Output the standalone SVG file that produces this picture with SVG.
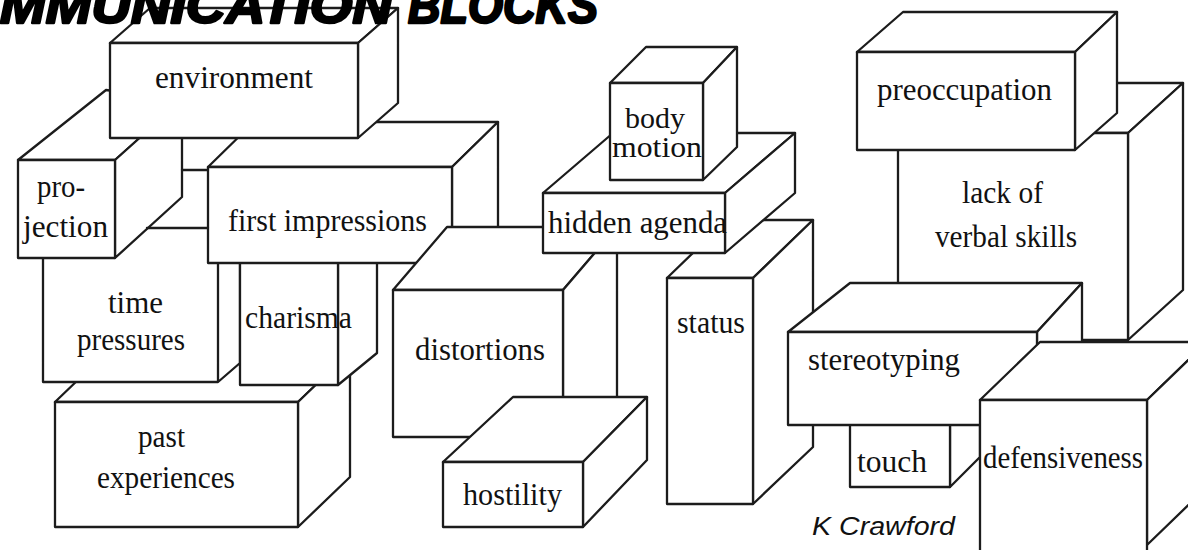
<svg xmlns="http://www.w3.org/2000/svg" width="1188" height="550" viewBox="0 0 1188 550">
<style>
.f{fill:#fff;stroke:#1c1c1c;stroke-width:2.3;stroke-linejoin:round}
.n{fill:#fff;stroke:none}
.l{fill:none;stroke:#1c1c1c;stroke-width:2.3;stroke-linejoin:round;stroke-linecap:round}
.t{font-family:"Liberation Serif",serif;font-size:31px;fill:#111}
.s{font-size:29px}
.h{font-family:"Liberation Sans",sans-serif;font-style:italic;font-weight:bold;font-size:50px;fill:#000;stroke:#000;stroke-width:2.5;stroke-linejoin:round}
</style>
<rect width="1188" height="550" fill="#fff"/>

<g id="past-experiences">
<polygon class="f" points="55,402 298,402 350,352 107,352"/>
<polygon class="f" points="298,402 350,352 350,477 298,527"/>
<rect class="f" x="55" y="402" width="243" height="125"/>
<text class="t" x="138" y="447" textLength="47" lengthAdjust="spacingAndGlyphs">past</text>
<text class="t" x="97" y="488" textLength="138" lengthAdjust="spacingAndGlyphs">experiences</text>
</g>

<g id="time-pressures">
<polygon class="n" points="43,258 218,258 240,240 240,363 218,382 43,382"/>
<path class="l" d="M43,258 V382 H218 V258 M218,382 L240,363 V240"/>
<text class="t" x="108" y="313" textLength="55" lengthAdjust="spacingAndGlyphs">time</text>
<text class="t" x="77" y="350" textLength="108" lengthAdjust="spacingAndGlyphs">pressures</text>
</g>

<g id="charisma">
<polygon class="f" points="338,250 377,215 377,353 338,385"/>
<rect class="f" x="240" y="250" width="98" height="135"/>
<text class="t" x="245" y="328" textLength="107" lengthAdjust="spacingAndGlyphs">charisma</text>
</g>

<g id="first-impressions">
<polygon class="f" points="208,167 452,167 498,122 254,122"/>
<polygon class="f" points="452,167 498,122 498,227 452,263"/>
<rect class="f" x="208" y="167" width="244" height="96"/>
<text class="t" x="228" y="231" textLength="199" lengthAdjust="spacingAndGlyphs">first impressions</text>
</g>

<g id="projection">
<polygon class="f" points="18,160 115,160 182,100 106,90"/>
<polygon class="f" points="115,160 182,100 182,197 115,258"/>
<rect class="f" x="18" y="160" width="97" height="98"/>
<text class="t" x="37" y="197" textLength="48" lengthAdjust="spacingAndGlyphs">pro-</text>
<text class="t" x="23" y="237" textLength="85" lengthAdjust="spacingAndGlyphs">jection</text>
</g>

<g id="environment">
<polygon class="f" points="110,43 358,43 398,8 150,8"/>
<polygon class="f" points="358,43 398,8 398,103 358,138"/>
<rect class="f" x="110" y="43" width="248" height="95"/>
<text class="t" x="155" y="88" textLength="158" lengthAdjust="spacingAndGlyphs">environment</text>
</g>

<g id="distortions">
<polygon class="f" points="393,290 563,290 617,227 447,227"/>
<polygon class="f" points="563,290 617,227 617,400 563,437"/>
<rect class="f" x="393" y="290" width="170" height="147"/>
<text class="t" x="415" y="360" textLength="130" lengthAdjust="spacingAndGlyphs">distortions</text>
</g>

<g id="hostility">
<polygon class="f" points="443,462 583,462 647,397 513,397"/>
<polygon class="f" points="583,462 647,397 647,460 583,527"/>
<rect class="f" x="443" y="462" width="140" height="65"/>
<text class="t" x="463" y="505" textLength="99" lengthAdjust="spacingAndGlyphs">hostility</text>
</g>

<g id="status">
<polygon class="f" points="667,278 753,278 813,220 727,220"/>
<polygon class="f" points="753,278 813,220 813,447 753,504"/>
<rect class="f" x="667" y="278" width="86" height="226"/>
<text class="t" x="677" y="333" textLength="68" lengthAdjust="spacingAndGlyphs">status</text>
</g>

<g id="hidden-agenda">
<polygon class="f" points="543,193 725,193 795,133 613,133"/>
<polygon class="f" points="725,193 795,133 795,193 725,253"/>
<rect class="f" x="543" y="193" width="182" height="60"/>
<text class="t" x="548" y="233" textLength="179" lengthAdjust="spacingAndGlyphs">hidden agenda</text>
</g>

<g id="body-motion">
<polygon class="f" points="610,83 703,83 737,47 646,47"/>
<polygon class="f" points="703,83 737,47 737,147 703,180"/>
<rect class="f" x="610" y="83" width="93" height="97"/>
<text class="t s" x="625" y="128" textLength="60" lengthAdjust="spacingAndGlyphs">body</text>
<text class="t s" x="612" y="157" textLength="90" lengthAdjust="spacingAndGlyphs">motion</text>
</g>

<g id="lack-of-verbal-skills">
<polygon class="f" points="898,133 1128,133 1183,83 953,83"/>
<polygon class="f" points="1128,133 1183,83 1183,290 1128,340"/>
<rect class="f" x="898" y="133" width="230" height="207"/>
<text class="t" x="962" y="203" textLength="81" lengthAdjust="spacingAndGlyphs">lack of</text>
<text class="t" x="935" y="247" textLength="142" lengthAdjust="spacingAndGlyphs">verbal skills</text>
</g>

<g id="preoccupation">
<polygon class="f" points="857,52 1075,52 1117,12 903,12"/>
<polygon class="f" points="1075,52 1117,12 1117,113 1075,150"/>
<rect class="f" x="857" y="52" width="218" height="98"/>
<text class="t" x="877" y="100" textLength="175" lengthAdjust="spacingAndGlyphs">preoccupation</text>
</g>

<g id="touch">
<polygon class="f" points="950,410 980,382 980,457 950,487"/>
<rect class="f" x="850" y="410" width="100" height="77"/>
<text class="t" x="857" y="472" textLength="70" lengthAdjust="spacingAndGlyphs">touch</text>
</g>

<g id="stereotyping">
<polygon class="f" points="788,332 1037,332 1082,283 850,283"/>
<polygon class="f" points="1037,332 1082,283 1082,380 1037,425"/>
<rect class="f" x="788" y="332" width="249" height="93"/>
<text class="t" x="808" y="370" textLength="152" lengthAdjust="spacingAndGlyphs">stereotyping</text>
</g>

<g id="defensiveness">
<polygon class="f" points="980,400 1147,400 1207,342 1040,342"/>
<polygon class="f" points="1147,400 1207,342 1207,487 1147,545"/>
<rect class="f" x="980" y="400" width="167" height="170"/>
<text class="t" x="983" y="468" textLength="160" lengthAdjust="spacingAndGlyphs">defensiveness</text>
</g>

<g id="connectors">
<line class="l" x1="182" y1="170" x2="208" y2="170"/>
<line class="l" x1="147" y1="228" x2="208" y2="228"/>
</g>

<text x="812" y="535" font-family="Liberation Sans, sans-serif" font-style="italic" font-size="26" fill="#111" textLength="143" lengthAdjust="spacingAndGlyphs">K Crawford</text>
<g id="title">
<text class="h" x="0" y="23" textLength="392" lengthAdjust="spacingAndGlyphs">MMUNICATION</text>
<text class="h" x="408" y="23" textLength="190" lengthAdjust="spacingAndGlyphs">BLOCKS</text>
</g>
</svg>
